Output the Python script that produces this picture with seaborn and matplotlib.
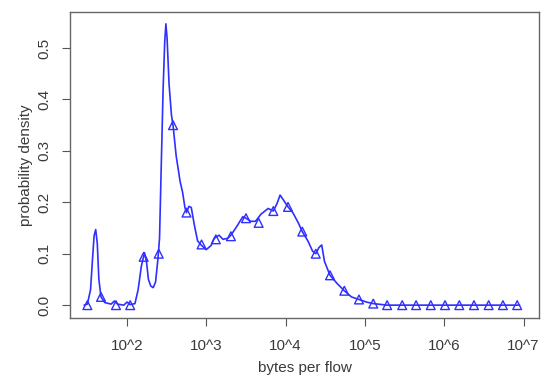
import numpy as np
import pandas as pd
import matplotlib
matplotlib.use("Agg")
import matplotlib.pyplot as plt
import seaborn as sns

# density curve (log10 of bytes per flow, probability density)
line_log10 = [1.46, 1.50, 1.54, 1.565, 1.585, 1.605, 1.625, 1.645, 1.672, 1.72,
              1.80, 1.84, 1.88, 1.96, 2.00, 2.04, 2.10, 2.14, 2.18, 2.22,
              2.245, 2.27, 2.30, 2.33, 2.36, 2.39, 2.41, 2.43, 2.455, 2.475,
              2.49, 2.505, 2.53, 2.56, 2.58, 2.62, 2.67, 2.70, 2.73, 2.75,
              2.78, 2.81, 2.85, 2.89, 2.94, 3.00, 3.06, 3.10, 3.16, 3.21,
              3.27, 3.31, 3.38, 3.46, 3.50, 3.56, 3.62, 3.69, 3.78, 3.845,
              3.89, 3.93, 3.97, 4.03, 4.09, 4.16, 4.21, 4.28, 4.34, 4.38,
              4.42, 4.455, 4.49, 4.56, 4.65, 4.74, 4.83, 4.925, 5.02, 5.105,
              5.28, 5.6, 6.0, 6.5, 6.95]
line_density = [0.0, 0.002, 0.03, 0.09, 0.135, 0.147, 0.12, 0.05, 0.016, 0.005,
                0.002, 0.008, 0.002, 0.0, 0.006, 0.001, 0.003, 0.03, 0.075, 0.102,
                0.085, 0.05, 0.037, 0.034, 0.045, 0.09, 0.13, 0.26, 0.42, 0.51,
                0.547, 0.52, 0.43, 0.37, 0.35, 0.29, 0.24, 0.22, 0.19, 0.18,
                0.192, 0.19, 0.155, 0.125, 0.116, 0.108, 0.116, 0.13, 0.136, 0.128,
                0.13, 0.136, 0.152, 0.172, 0.169, 0.163, 0.163, 0.177, 0.188, 0.183,
                0.197, 0.214, 0.205, 0.191, 0.18, 0.16, 0.143, 0.125, 0.105, 0.10,
                0.112, 0.117, 0.085, 0.058, 0.042, 0.028, 0.016, 0.011, 0.006, 0.003,
                0.0, 0.0, 0.0, 0.0, 0.0]

# triangle markers
marker_log10 = [1.50, 1.672, 1.861, 2.04, 2.21, 2.40, 2.58, 2.75, 2.94, 3.12,
                3.31, 3.50, 3.66, 3.845, 4.03, 4.21, 4.38, 4.56, 4.74, 4.925,
                5.105, 5.28, 5.47, 5.645, 5.83, 6.01, 6.19, 6.375, 6.56, 6.74, 6.92]
marker_density = [0.0, 0.016, 0.0, 0.0, 0.094, 0.10, 0.35, 0.18, 0.118, 0.128,
                  0.134, 0.169, 0.16, 0.183, 0.191, 0.143, 0.10, 0.058, 0.028, 0.011,
                  0.003, 0.0, 0.0, 0.0, 0.0, 0.0, 0.0, 0.0, 0.0, 0.0, 0.0]

x_tick_exps = [2, 3, 4, 5, 6, 7]
x_tick_labels = ["10^2", "10^3", "10^4", "10^5", "10^6", "10^7"]
y_ticks = [0.0, 0.1, 0.2, 0.3, 0.4, 0.5]
y_tick_labels = ["0.0", "0.1", "0.2", "0.3", "0.4", "0.5"]

sns.set_style("white")
plt.rcParams["font.family"] = ["Liberation Sans", "DejaVu Sans"]

line_df = pd.DataFrame({"bytes": np.power(10.0, line_log10), "density": line_density})
mark_df = pd.DataFrame({"bytes": np.power(10.0, marker_log10), "density": marker_density})

fig = plt.figure(figsize=(5.43, 3.79), dpi=100)
ax = fig.add_axes([70 / 543, 1 - 318 / 379, (539 - 70) / 543, (318 - 12) / 379])

blue = "#2f2fff"
sns.lineplot(data=line_df, x="bytes", y="density", ax=ax, color=blue, lw=1.2,
             sort=False, estimator=None)
ax.scatter(mark_df["bytes"], mark_df["density"], marker="^", s=40,
           facecolors="none", edgecolors=blue, linewidths=1.0, zorder=3)

ax.set_xscale("log")
ax.set_xlim(10 ** 1.281, 10 ** 7.195)
ax.set_ylim(-0.025, 0.570)
ax.set_xticks([10.0 ** e for e in x_tick_exps])
ax.set_xticklabels(x_tick_labels)
ax.xaxis.set_minor_locator(matplotlib.ticker.NullLocator())
ax.set_yticks(y_ticks)
ax.set_yticklabels(y_tick_labels, rotation=90, va="center")

txt = "#3a3a3a"
ax.tick_params(axis="both", which="major", direction="out", length=6, width=0.8,
               color="#555555", labelsize=11, labelcolor=txt, bottom=True, left=True)
ax.tick_params(axis="x", pad=9)
ax.tick_params(axis="y", pad=7.5)
for s in ax.spines.values():
    s.set_color("#666666")
    s.set_linewidth(1.0)

ax.set_xlabel("bytes per flow", fontsize=11, color=txt, labelpad=6)
ax.set_ylabel("probability density", fontsize=11, color=txt, labelpad=3)

fig.savefig("out.png", dpi=100)
